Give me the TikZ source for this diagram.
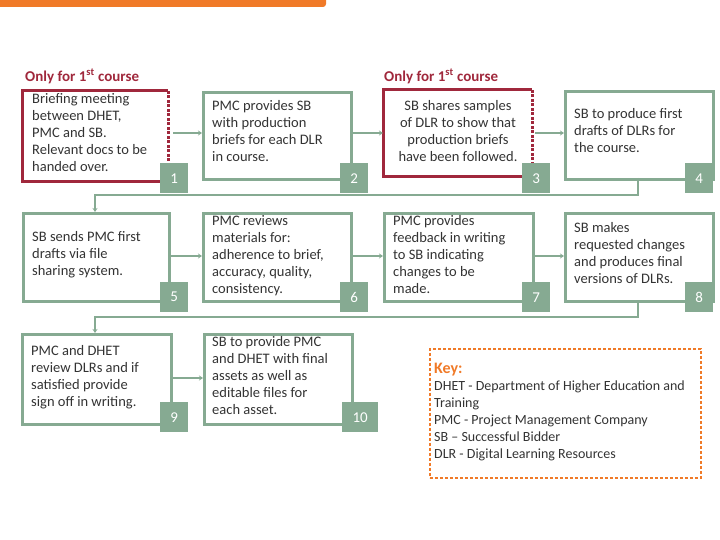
\documentclass[tikz,border=0pt]{standalone}
\usepackage{fontspec}
\setmainfont{Carlito}
\usetikzlibrary{arrows.meta}
\definecolor{gr}{HTML}{86AA92}
\definecolor{rd}{HTML}{A0283C}
\definecolor{orn}{HTML}{F07A28}
\definecolor{tx}{HTML}{333333}
\begin{document}
\begin{tikzpicture}[x=1pt,y=-1pt,
 box/.style={draw=gr,line width=3pt,anchor=north west,inner sep=0pt},
 txt/.style={anchor=north west,inner sep=0pt,text=tx,font=\fontsize{14.5}{17}\selectfont,align=left},
 num/.style={fill=gr,text=white,anchor=north west,minimum width=28pt,minimum height=30pt,inner sep=0pt,font=\fontsize{15}{17}\selectfont},
 lbl/.style={anchor=north west,inner sep=0pt,text=rd,font=\fontsize{15}{17}\selectfont\bfseries},
 con/.style={draw=gr,line width=2pt,-{Stealth[length=4pt,width=5pt]}}]
\useasboundingbox (0,0) rectangle (720,540);
\fill[orn,rounded corners=3pt] (-5,-5) rectangle (326,7);
% labels
\node[lbl] (l1) at (25,69) {Only for 1\textsuperscript{st} course};
\node[lbl] (l3) at (384,69) {Only for 1\textsuperscript{st} course};
% row 1
\node[box,draw=none,minimum width=148pt,minimum height=91pt] (b1) at (22,91) {};
\draw[rd,line width=3pt] (168,91) -- (22,91) -- (22,182) -- (168,182);
\draw[rd,line width=3pt,dash pattern=on 3pt off 1.5pt] (168,91) -- (168,182);
\node[txt] (t1) at (32,93) {Briefing meeting\\between DHET,\\PMC and SB.\\Relevant docs to be\\handed over.};
\node[box,minimum width=148pt,minimum height=87pt] (b2) at (202,91) {};
\node[txt] (t2) at (212,100) {PMC provides SB\\with production\\briefs for each DLR\\in course.};
\node[box,draw=none,minimum width=149pt,minimum height=87pt] (b3) at (383,90) {};
\draw[rd,line width=3pt] (532,90) -- (383,90) -- (383,177) -- (532,177);
\draw[rd,line width=3pt,dash pattern=on 3pt off 1.5pt] (532,90) -- (532,177);
\draw[rd,line width=3pt,dash pattern=on 3pt off 1.5pt] (384,177) -- (405,177);
\node[txt,align=center,anchor=north] (t3) at (458,100) {SB shares samples\\of DLR to show that\\production briefs\\have been followed.};
\node[box,minimum width=148pt,minimum height=88pt] (b4) at (564,90) {};
\node[txt] (t4) at (574,108) {SB to produce first\\drafts of DLRs for\\the course.};
% row 2
\node[box,minimum width=146pt,minimum height=88pt] (b5) at (22,212) {};
\node[txt] (t5) at (32,231) {SB sends PMC first\\drafts via file\\sharing system.};
\node[box,minimum width=148pt,minimum height=88pt] (b6) at (202,212) {};
\node[txt] (t6) at (212,215) {PMC reviews\\materials for:\\adherence to brief,\\accuracy, quality,\\consistency.};
\node[box,minimum width=149pt,minimum height=88pt] (b7) at (383,212) {};
\node[txt] (t7) at (393,215) {PMC provides\\feedback in writing\\to SB indicating\\changes to be\\made.};
\node[box,minimum width=148pt,minimum height=88pt] (b8) at (564,212) {};
\node[txt] (t8) at (574,222) {SB makes\\requested changes\\and produces final\\versions of DLRs.};
% row 3
\node[box,minimum width=149pt,minimum height=90pt] (b9) at (21,333) {};
\node[txt] (t9) at (31,345) {PMC and DHET\\review DLRs and if\\satisfied provide\\sign off in writing.};
\node[box,minimum width=148pt,minimum height=90pt] (b10) at (203,333) {};
\node[txt] (t10) at (212,336) {SB to provide PMC\\and DHET with final\\assets as well as\\editable files for\\each asset.};
% numbers
\node[num] (n1) at (160,163) {1};
\node[num] (n2) at (340,163) {2};
\node[num] (n3) at (522,163) {3};
\node[num] (n4) at (685,163) {4};
\node[num] (n5) at (160,282) {5};
\node[num] (n6) at (340,282) {6};
\node[num] (n7) at (522,282) {7};
\node[num] (n8) at (685,282) {8};
\node[num] (n9) at (160,402) {9};
\node[num,minimum width=36pt] (n10) at (342,402) {10};
% connectors
\draw[con] (b1.east |- 0,133) -- (b2.west |- 0,133);
\draw[con] (b2.east |- 0,133) -- (b3.west |- 0,133);
\draw[con] (b3.east |- 0,133) -- (b4.west |- 0,133);
\draw[con] (638,178) -- (638,195) -- (95,195) -- (95,212);
\draw[con] (b5.east |- 0,256) -- (b6.west |- 0,256);
\draw[con] (b6.east |- 0,256) -- (b7.west |- 0,256);
\draw[con] (b7.east |- 0,256) -- (b8.west |- 0,256);
\draw[con] (638,300) -- (638,317) -- (95,317) -- (95,333);
\draw[con] (b9.east |- 0,378) -- (b10.west |- 0,378);
% key
\node[draw=orn,line width=1.5pt,dash pattern=on 3pt off 2pt,anchor=north west,minimum width=271pt,minimum height=129pt,inner sep=0pt] (key) at (429,348) {};
\node[anchor=north west,inner sep=0pt,text=orn,font=\fontsize{16}{18}\selectfont\bfseries] (kt) at (434,363) {Key:};
\node[txt,font=\fontsize{14}{17}\selectfont] (kb) at (434,381) {DHET - Department of Higher Education and\\Training\\PMC - Project Management Company\\SB -- Successful Bidder\\DLR - Digital Learning Resources};
\end{tikzpicture}
\end{document}
